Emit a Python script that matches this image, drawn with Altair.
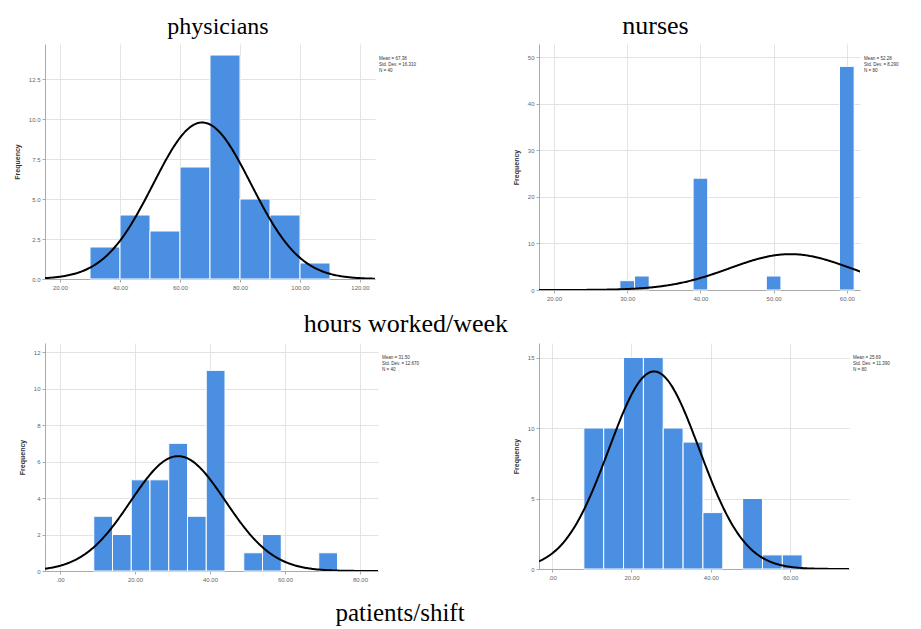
import altair as alt
import pandas as pd

# ---------- data ----------
# physicians, hours worked/week
ph_hours_start = [30, 40, 50, 60, 70, 80, 90, 100]
ph_hours_count = [2, 4, 3, 7, 14, 5, 4, 1]
ph_hours_bw = 10
ph_hours_stats = (67.38, 16.31, 40)

# nurses, hours worked/week
nu_hours_start = [29, 31, 39, 49, 59]
nu_hours_count = [2, 3, 24, 3, 48]
nu_hours_bw = 2
nu_hours_stats = (52.28, 8.29, 80)

# physicians, patients/shift
ph_pat_start = [9, 14, 19, 24, 29, 34, 39, 49, 54, 69]
ph_pat_count = [3, 2, 5, 5, 7, 3, 11, 1, 2, 1]
ph_pat_bw = 5
ph_pat_stats = (31.50, 12.67, 40)

# nurses, patients/shift
nu_pat_start = [8, 13, 18, 23, 28, 33, 38, 48, 53, 58]
nu_pat_count = [10, 10, 15, 15, 10, 9, 4, 5, 1, 1]
nu_pat_bw = 5
nu_pat_stats = (25.69, 11.39, 80)

BAR = "#4a8fe2"
SERIF = "Liberation Serif"
SANS = "Liberation Sans"


def panel(starts, counts, bw, stats, W, H, xdom, ydom, xticks, yticks, yfmt,
          title=None, title_dx=0, title_size=24):
    mean, sd, n = stats
    df = pd.DataFrame({"x0": starts, "count": counts})
    df["x1"] = df["x0"] + bw
    xscale = alt.Scale(domain=xdom, nice=False, zero=False)
    yscale = alt.Scale(domain=ydom, nice=False)
    xaxis = alt.Axis(values=xticks, title=None, grid=True,
                     labelExpr="datum.value == 0 ? '.00' : format(datum.value, '.2f')")
    yaxis = alt.Axis(values=yticks, title="Frequency", grid=True, format=yfmt)
    bars = alt.Chart(df).mark_rect(color=BAR, stroke="white", strokeWidth=1).encode(
        x=alt.X("x0:Q", scale=xscale, axis=xaxis),
        x2="x1:Q",
        y=alt.Y("count:Q", scale=yscale, axis=yaxis),
        y2=alt.datum(0),
    )
    expr = (f"{n * bw}/({sd}*sqrt(2*PI))*exp(-0.5*pow((datum.x-{mean})/{sd},2))")
    step = (xdom[1] - xdom[0]) / 300
    curve = alt.Chart(alt.sequence(xdom[0], xdom[1] + step, step, as_="x")).transform_calculate(
        f=expr
    ).mark_line(color="black", strokeWidth=2, clip=True).encode(
        x=alt.X("x:Q", scale=xscale, axis=xaxis),
        y=alt.Y("f:Q", scale=yscale, axis=yaxis),
    )
    legend_text = f"Mean = {mean:.2f}\nStd. Dev. = {sd:.3f}\nN = {n}"
    leg = alt.Chart(pd.DataFrame({"a": [0]})).mark_text(
        text=legend_text, lineBreak="\n", align="left", baseline="top",
        fontSize=4.5, lineHeight=6, color="#333", font=SANS
    ).encode(x=alt.value(W + 4), y=alt.value(12))
    ch = alt.layer(bars, curve, leg).properties(width=W, height=H)
    if title:
        ch = ch.properties(title=alt.TitleParams(title, dx=title_dx, offset=5,
                                                 fontSize=title_size))
    return ch


p1 = panel(ph_hours_start, ph_hours_count, ph_hours_bw, ph_hours_stats,
           330, 235, [15, 125], [0, 14.69], [20, 40, 60, 80, 100, 120],
           [0, 2.5, 5, 7.5, 10, 12.5], ".1f", "physicians", 8, 24)
p2 = panel(nu_hours_start, nu_hours_count, nu_hours_bw, nu_hours_stats,
           321, 246, [17.95, 61.8], [0, 52.8], [20, 30, 40, 50, 60],
           [0, 10, 20, 30, 40, 50], "d", "nurses", -44, 26)
p3 = panel(ph_pat_start, ph_pat_count, ph_pat_bw, ph_pat_stats,
           333, 228, [-4, 84.8], [0, 12.5], [0, 20, 40, 60, 80],
           [0, 2, 4, 6, 8, 10, 12], "d")
p4 = panel(nu_pat_start, nu_pat_count, nu_pat_bw, nu_pat_stats,
           310, 226, [-3.3, 74.8], [0, 16.03], [0, 20, 40, 60],
           [0, 5, 10, 15], "d")

row1 = alt.hconcat(p1, p2, spacing=95,
                   title=alt.TitleParams("hours worked/week", orient="bottom",
                                         anchor="middle", dx=-50, offset=10,
                                         fontSize=26))
row2 = alt.hconcat(p3, p4, spacing=92,
                   title=alt.TitleParams("patients/shift", orient="bottom",
                                         anchor="middle", dx=-54, offset=19,
                                         fontSize=25))

chart = alt.vconcat(row1, row2, spacing=6).configure_view(stroke=None).configure_axis(
    labelFontSize=6, labelColor="#666", labelFont=SANS, labelPadding=2,
    domainColor="#aaa", tickColor="#aaa", tickSize=3,
    gridColor="#e3e3e3", titleFontSize=7, titleColor="#333", titleFont=SANS,
    titleFontWeight="bold", titlePadding=8,
).configure_title(
    font=SERIF, fontSize=24, fontWeight="normal", color="black"
)

chart.save("out.html", embed_options={"renderer": "svg", "actions": False})
